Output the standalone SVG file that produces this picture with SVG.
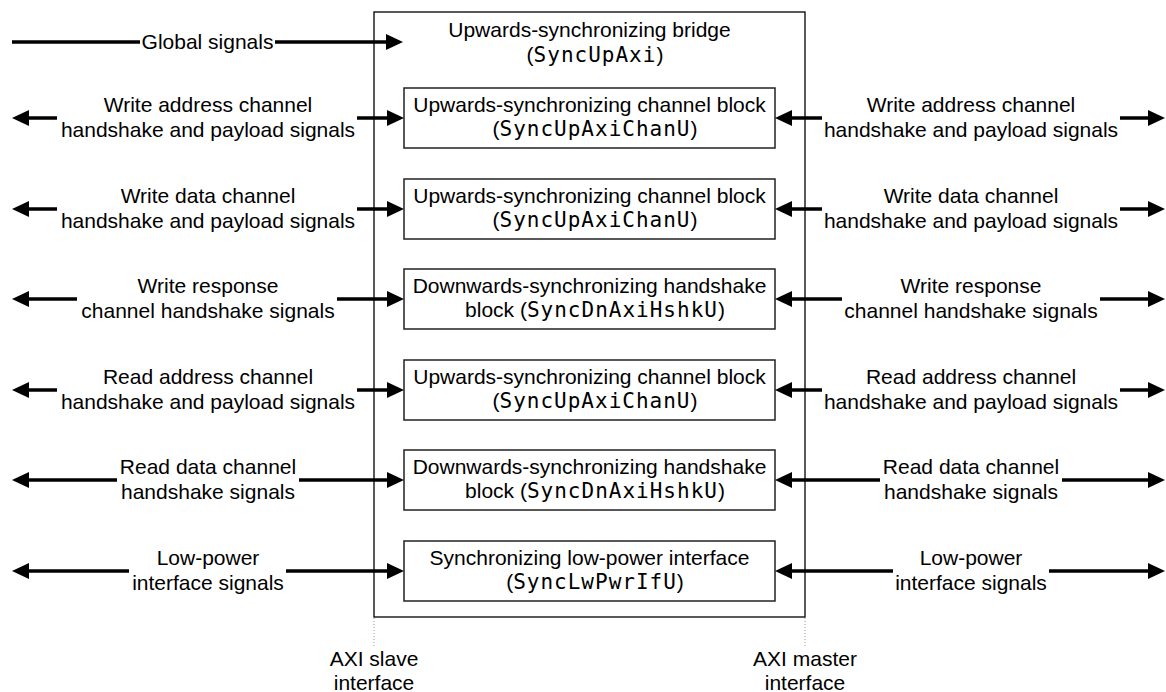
<svg xmlns="http://www.w3.org/2000/svg" width="1166" height="692" viewBox="0 0 1166 692">
<style>
text{font-family:"Liberation Sans",Arial,sans-serif;font-size:21px;fill:#000;text-anchor:middle}
.m{font-family:"DejaVu Sans Mono","Liberation Mono",monospace;font-size:21px;letter-spacing:1px}
.outer{fill:#fff;stroke:#000;stroke-width:1.3}
.blk{fill:#fff;stroke:#222;stroke-width:1.5}
.c{fill:none;stroke:#000;stroke-width:3.5}
.dot{fill:none;stroke:#999;stroke-width:1;stroke-dasharray:1 2}
</style>
<defs>
<marker id="ah" viewBox="0 -8 17 16" refX="0" refY="0" markerWidth="17" markerHeight="16" markerUnits="userSpaceOnUse" orient="auto"><path d="M0,-8 L17,0 L0,8 z" fill="#000"/></marker>
</defs>
<g id="bridge">
<rect class="outer" x="374" y="12" width="431" height="605"/>
<text x="589.5" y="37">Upwards-synchronizing bridge</text>
<text x="595" y="62">(<tspan class="m">SyncUpAxi</tspan>)</text>
</g>
<g id="blk1"><rect class="blk" x="404" y="88" width="371" height="60"/>
<text x="589.5" y="112">Upwards-synchronizing channel block</text><text x="595" y="136">(<tspan class="m">SyncUpAxiChanU</tspan>)</text></g>
<g id="blk2"><rect class="blk" x="404" y="179" width="371" height="60"/>
<text x="589.5" y="203">Upwards-synchronizing channel block</text><text x="595" y="227">(<tspan class="m">SyncUpAxiChanU</tspan>)</text></g>
<g id="blk3"><rect class="blk" x="404" y="269" width="371" height="60"/>
<text x="589.5" y="293">Downwards-synchronizing handshake</text><text x="595" y="317">block (<tspan class="m">SyncDnAxiHshkU</tspan>)</text></g>
<g id="blk4"><rect class="blk" x="404" y="360" width="371" height="60"/>
<text x="589.5" y="384">Upwards-synchronizing channel block</text><text x="595" y="408">(<tspan class="m">SyncUpAxiChanU</tspan>)</text></g>
<g id="blk5"><rect class="blk" x="404" y="450" width="371" height="60"/>
<text x="589.5" y="474">Downwards-synchronizing handshake</text><text x="595" y="498">block (<tspan class="m">SyncDnAxiHshkU</tspan>)</text></g>
<g id="blk6"><rect class="blk" x="404" y="541" width="371" height="60"/>
<text x="589.5" y="565">Synchronizing low-power interface</text><text x="595" y="589">(<tspan class="m">SyncLwPwrIfU</tspan>)</text></g>
<g id="connectors">
<path class="c" d="M12,42 H140"/>
<path class="c" d="M275,42 H386" marker-end="url(#ah)"/>
<path class="c" d="M57,118 H29" marker-end="url(#ah)"/><path class="c" d="M357,118 H387" marker-end="url(#ah)"/>
<path class="c" d="M822,118 H792" marker-end="url(#ah)"/><path class="c" d="M1120,118 H1148" marker-end="url(#ah)"/>
<path class="c" d="M57,209 H29" marker-end="url(#ah)"/><path class="c" d="M357,209 H387" marker-end="url(#ah)"/>
<path class="c" d="M822,209 H792" marker-end="url(#ah)"/><path class="c" d="M1120,209 H1148" marker-end="url(#ah)"/>
<path class="c" d="M77,299 H29" marker-end="url(#ah)"/><path class="c" d="M337,299 H387" marker-end="url(#ah)"/>
<path class="c" d="M842,299 H792" marker-end="url(#ah)"/><path class="c" d="M1100,299 H1148" marker-end="url(#ah)"/>
<path class="c" d="M57,390 H29" marker-end="url(#ah)"/><path class="c" d="M357,390 H387" marker-end="url(#ah)"/>
<path class="c" d="M822,390 H792" marker-end="url(#ah)"/><path class="c" d="M1120,390 H1148" marker-end="url(#ah)"/>
<path class="c" d="M117,480 H29" marker-end="url(#ah)"/><path class="c" d="M299,480 H387" marker-end="url(#ah)"/>
<path class="c" d="M880,480 H792" marker-end="url(#ah)"/><path class="c" d="M1062,480 H1148" marker-end="url(#ah)"/>
<path class="c" d="M129,571 H29" marker-end="url(#ah)"/><path class="c" d="M286,571 H387" marker-end="url(#ah)"/>
<path class="c" d="M893,571 H792" marker-end="url(#ah)"/><path class="c" d="M1049,571 H1148" marker-end="url(#ah)"/>
<path class="dot" d="M374,618 V646 M805,618 V646"/>
</g>
<g id="labels">
<text x="207.5" y="49">Global signals</text>
<text x="208" y="112">Write address channel</text><text x="208" y="137">handshake and payload signals</text>
<text x="971" y="112">Write address channel</text><text x="971" y="137">handshake and payload signals</text>
<text x="208" y="203">Write data channel</text><text x="208" y="228">handshake and payload signals</text>
<text x="971" y="203">Write data channel</text><text x="971" y="228">handshake and payload signals</text>
<text x="208" y="293">Write response</text><text x="208" y="318">channel handshake signals</text>
<text x="971" y="293">Write response</text><text x="971" y="318">channel handshake signals</text>
<text x="208" y="384">Read address channel</text><text x="208" y="409">handshake and payload signals</text>
<text x="971" y="384">Read address channel</text><text x="971" y="409">handshake and payload signals</text>
<text x="208" y="474">Read data channel</text><text x="208" y="499">handshake signals</text>
<text x="971" y="474">Read data channel</text><text x="971" y="499">handshake signals</text>
<text x="208" y="565">Low-power</text><text x="208" y="590">interface signals</text>
<text x="971" y="565">Low-power</text><text x="971" y="590">interface signals</text>
<text x="374" y="666">AXI slave</text><text x="374" y="690">interface</text>
<text x="805" y="666">AXI master</text><text x="805" y="690">interface</text>
</g>
</svg>
